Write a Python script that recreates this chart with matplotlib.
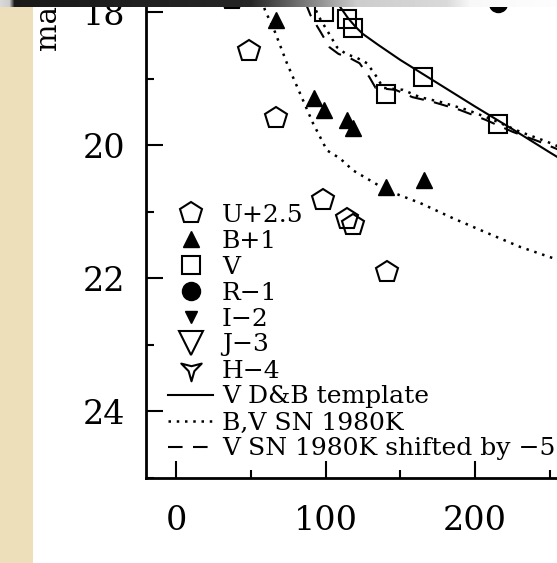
import numpy as np
import matplotlib.pyplot as plt
from matplotlib.patches import Rectangle
from matplotlib.path import Path
from matplotlib.transforms import Affine2D
from matplotlib.ticker import MultipleLocator

plt.rcParams['font.family'] = ['DejaVu Serif']

# photometry (days, mag)
u_days = [37.5, 48.8, 66.9, 98.3, 114.4, 118.4, 141.0]
u_mag = [17.80, 18.59, 19.59, 20.83, 21.11, 21.20, 21.91]
b_days = [66.9, 92.5, 99.1, 114.4, 118.6, 140.5, 165.9]
b_mag = [18.12, 19.30, 19.47, 19.62, 19.74, 20.63, 20.53]
v_days = [99.1, 114.7, 118.4, 140.7, 165.4, 215.6]
v_mag = [18.00, 18.11, 18.24, 19.23, 18.97, 19.69]
r_days = [215.4]
r_mag = [17.86]
i_days, i_mag = [], []
j_days, j_mag = [], []
h_days, h_mag = [], []

# template curves
tmpl_days = [105, 110, 115, 120, 125, 135, 150, 175, 200, 225, 250, 280]
tmpl_mag = [17.76, 17.93, 18.09, 18.22, 18.33, 18.49, 18.72, 19.07, 19.42, 19.76, 20.11, 20.52]

b80k_days = [57.5, 59.5, 66.2, 74.2, 82.9, 91.6, 101, 109.7, 118.4, 141.1, 163.2, 185.3, 208, 230.1, 252.2, 280]
b80k_mag = [17.82, 17.97, 18.30, 18.77, 19.22, 19.67, 20.08, 20.20, 20.38, 20.68, 20.87, 21.10, 21.32, 21.53, 21.70, 21.95]

v80k_days = [91.6, 95, 101.7, 107.7, 113.7, 121.1, 127.8, 134.4, 138.5, 151.8, 163.2, 176.6, 194.6, 212, 230.1, 248.2, 280]
v80k_mag = [17.86, 18.05, 18.30, 18.53, 18.63, 18.69, 18.77, 18.98, 19.14, 19.17, 19.28, 19.35, 19.47, 19.62, 19.80, 19.95, 20.25]
shift = -5

W, H = 557, 563
fig = plt.figure(figsize=(W / 100, H / 100), dpi=100)

# axes runs past the right and top edge (the scan is cropped)
ax = fig.add_axes([146.1 / W, (H - 477.7) / H, 448.5 / W, 492.3 / H])

# open three-pointed star, pointing down, for H
star = Path.unit_regular_star(3, 0.28)
star = Affine2D().rotate_deg(180).transform_path(star)

ax.plot(u_days, u_mag, ls='none', marker='p', ms=16.5, mfc='none', mec='k', mew=1.5, label='U+2.5')
ax.plot(b_days, b_mag, ls='none', marker='^', ms=11, color='k', label='B+1')
ax.plot(v_days, v_mag, ls='none', marker='s', ms=13.5, mfc='none', mec='k', mew=1.5, label='V')
ax.plot(r_days, r_mag, ls='none', marker='o', ms=13, color='k', label='R\u22121')
ax.plot(i_days, i_mag, ls='none', marker='v', ms=9, color='k', label='I\u22122')
ax.plot(j_days, j_mag, ls='none', marker='v', ms=17, mfc='none', mec='k', mew=1.5, label='J\u22123')
ax.plot(h_days, h_mag, ls='none', marker=star, ms=17, mfc='none', mec='k', mew=1.5, label='H\u22124')

ax.plot(tmpl_days, tmpl_mag, color='k', lw=1.5, label='V D&B template')
ax.plot(b80k_days, b80k_mag, color='k', lw=1.8, ls=(0, (1, 2.3)), label='B,V SN 1980K')
ax.plot(v80k_days, v80k_mag, color='k', lw=1.8, ls=(0, (1, 2.3)))
ax.plot(np.array(v80k_days) + shift, v80k_mag, color='k', lw=1.5, ls=(0, (7, 5)),
        label='V SN 1980K shifted by \u22125 days')

ax.set_xlim(-20, 280)
ax.set_ylim(25, 17.6)
ax.xaxis.set_major_locator(MultipleLocator(100))
ax.xaxis.set_minor_locator(MultipleLocator(50))
ax.yaxis.set_major_locator(MultipleLocator(2))
ax.yaxis.set_minor_locator(MultipleLocator(1))
ax.tick_params(which='both', direction='in', width=1.5, top=False, right=False, labelsize=24)
ax.tick_params(which='major', length=12)
ax.tick_params(which='minor', length=5.5)
ax.tick_params(axis='y', pad=15)
ax.tick_params(axis='x', pad=20)
for s in ax.spines.values():
    s.set_linewidth(2)

ax.legend(loc='upper left', bbox_to_anchor=(168 / W, 1 - 203.5 / H), bbox_transform=fig.transFigure,
          frameon=False, fontsize=18, borderpad=0, borderaxespad=0, handlelength=1.8,
          handletextpad=0.35, labelspacing=0.12, numpoints=1)

# cut-off y label
fig.text(48 / W, 1 - 50 / H, 'mag', rotation=90, ha='center', va='bottom', fontsize=21)

# beige edge of the scanned page and the dark strip on top
fig.add_artist(Rectangle((0, 0), 33 / W, 1, transform=fig.transFigure, color='#eedfbb', lw=0))
band = fig.add_axes([0, 1 - 7 / H, 1, 7 / H], zorder=5)
px = np.arange(W)
gray = np.interp(px, [0, 9, 14, 250, 300, 357, 446, 470, 557],
                 [0.85, 0.8, 0.1, 0.15, 0.45, 0.8, 0.85, 0.97, 0.99])
band.imshow(gray[None, :], cmap='gray', vmin=0, vmax=1, aspect='auto')
band.axis('off')

fig.savefig('out.png', dpi=100)
